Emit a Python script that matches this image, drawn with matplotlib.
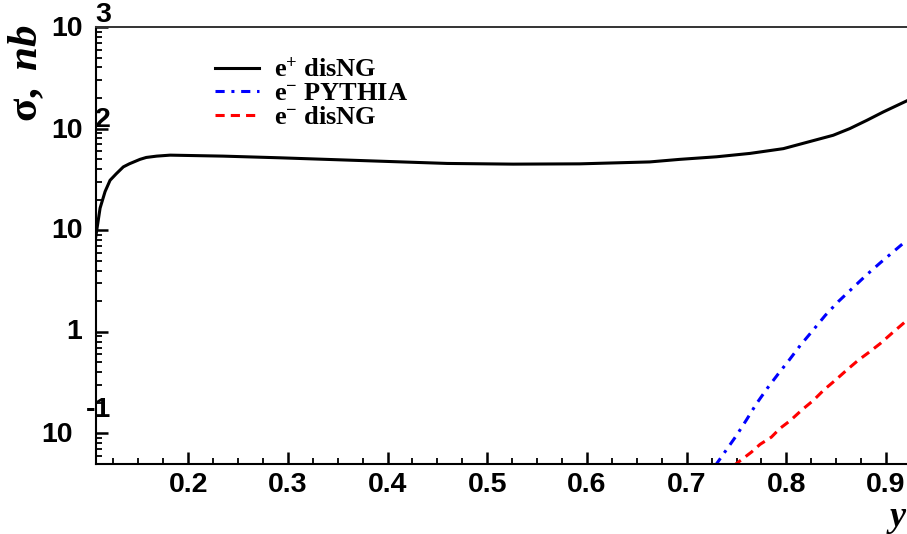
import matplotlib
matplotlib.use('Agg')
import matplotlib.pyplot as plt
from matplotlib.ticker import FixedLocator, LogLocator, NullFormatter

plt.rcParams['mathtext.fontset'] = 'custom'
plt.rcParams['mathtext.rm'] = 'Liberation Serif:bold'
plt.rcParams['mathtext.it'] = 'Liberation Serif:italic:bold'
plt.rcParams['mathtext.bf'] = 'Liberation Serif:bold'
plt.rcParams['mathtext.default'] = 'rm'

# e+ disNG (black)
x_pos = [0.1071, 0.1117, 0.1167, 0.1217, 0.128, 0.135, 0.141, 0.1517, 0.158, 0.1685,
         0.182, 0.235, 0.292, 0.392, 0.46, 0.526, 0.593, 0.663, 0.693, 0.73,
         0.7635, 0.797, 0.847, 0.8636, 0.881, 0.8973, 0.921]
sig_pos = [8.3, 16.5, 24, 31, 36, 42, 45, 49.8, 52, 53.6,
           54.8, 53.6, 51.6, 47.8, 45.4, 44.7, 45, 47, 49.8, 52.8,
           57, 63.5, 86, 100, 121, 146, 188]

# e- PYTHIA (blue)
x_pyth = [0.7286, 0.750, 0.760, 0.770, 0.781, 0.792, 0.803, 0.814, 0.8265, 0.839,
          0.852, 0.866, 0.880, 0.894, 0.917, 0.921]
sig_pyth = [0.048, 0.0955, 0.136, 0.196, 0.279, 0.387, 0.53, 0.736, 1.03, 1.45,
            1.98, 2.67, 3.6, 4.76, 7.4, 7.8]

# e- disNG (red)
x_neg = [0.747, 0.765, 0.7736, 0.785, 0.7936, 0.804, 0.8155, 0.827, 0.838, 0.849,
         0.8605, 0.872, 0.883, 0.894, 0.907, 0.919]
sig_neg = [0.048, 0.0655, 0.078, 0.092, 0.112, 0.134, 0.17, 0.211, 0.27, 0.333,
           0.42, 0.524, 0.63, 0.764, 0.99, 1.25]

x_ticks = [0.2, 0.3, 0.4, 0.5, 0.6, 0.7, 0.8, 0.9]
x_ticklabels = ['0.2', '0.3', '0.4', '0.5', '0.6', '0.7', '0.8', '0.9']
labels = [r'e$^{+}$ disNG', r'e$^{-}$ PYTHIA', r'e$^{-}$ disNG']

W, H = 907, 534
fig = plt.figure(figsize=(W / 100, H / 100), dpi=100)
ax = fig.add_axes([95.5 / W, (H - 464) / H, 1 - 95.5 / W, (464 - 27) / H])

ax.plot(x_pos, sig_pos, color='black', lw=2.2, label=labels[0])
ax.plot(x_pyth, sig_pyth, color='blue', lw=2.2, dashes=(3, 2.2, 1, 2.2), label=labels[1])
ax.plot(x_neg, sig_neg, color='red', lw=2.2, dashes=(3, 2), label=labels[2])

ax.set_yscale('log')
ax.set_xlim(0.1071, 0.921)
ax.set_ylim(0.05, 1000)

# axes frame
ax.spines['right'].set_visible(False)
for s in ['left', 'bottom']:
    ax.spines[s].set_linewidth(1.5)
ax.spines['top'].set_linewidth(1.4)
ax.spines['top'].set_color('#333333')

ax.xaxis.set_major_locator(FixedLocator(x_ticks))
ax.xaxis.set_minor_locator(FixedLocator([0.1 + 0.025 * i for i in range(1, 33)]))
ax.set_xticklabels(x_ticklabels)
ax.yaxis.set_major_locator(LogLocator(base=10, numticks=10))
ax.yaxis.set_minor_locator(LogLocator(base=10, subs=range(2, 10), numticks=20))
ax.yaxis.set_major_formatter(NullFormatter())
ax.yaxis.set_minor_formatter(NullFormatter())
ax.tick_params(which='both', direction='in', top=False, right=False)
ax.tick_params(which='major', length=8.5, width=1.8)
ax.tick_params(which='minor', length=4.3, width=1.3)
ax.tick_params(axis='x', which='major', pad=6, labelsize=20.5)
for lab in ax.get_xticklabels():
    lab.set_fontfamily('Liberation Sans')
    lab.set_fontweight('bold')

# ROOT-style y tick labels
tfont = dict(family='Liberation Sans', weight='bold', size=20.5)
ytr = ax.get_yaxis_transform()
ylabels = [
    (1000, '10', -12.5, -2, '3', 0, 12),
    (100, '10', -12.5, -2, '2', 0, 9),
    (10, '10', -12.5, -1, None, 0, 0),
    (1, '1', -13.5, 0, None, 0, 0),
    (0.1, '10', -22.5, -2, '-1', -9.5, 23),
]
for val, base, dx, dy, exp, ex, ey in ylabels:
    ax.annotate(base, xy=(0, val), xycoords=ytr, xytext=(dx, dy),
                textcoords='offset pixels', ha='right', va='center', **tfont)
    if exp:
        ax.annotate(exp, xy=(0, val), xycoords=ytr, xytext=(ex, ey),
                    textcoords='offset pixels', ha='left', va='center', **tfont)

# axis titles
fig.text(25 / W, 1 - 24 / H, r'$\mathrm{\sigma},\ \mathit{nb}$', rotation=90,
         ha='center', va='top', fontsize=31)
fig.text(898 / W, 1 - 518 / H, 'y', family='Liberation Serif', style='italic',
         weight='bold', fontsize=26, ha='center', va='center')

leg = ax.legend(loc='upper left', bbox_to_anchor=(215 / W, 1 - 58 / H),
                bbox_transform=fig.transFigure, frameon=False,
                prop=dict(family='Liberation Serif', weight='bold', size=19),
                handlelength=1.65, handletextpad=0.6, labelspacing=0.0,
                borderpad=0, borderaxespad=0)

plt.savefig('out.png', dpi=100)
